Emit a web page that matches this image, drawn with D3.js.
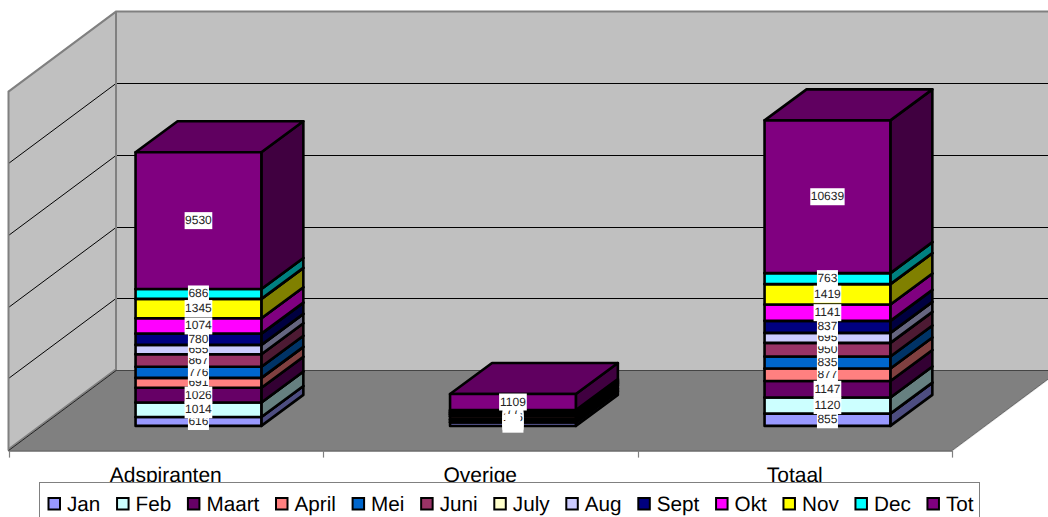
<!DOCTYPE html>
<html><head><meta charset="utf-8">
<script src="https://cdn.jsdelivr.net/npm/d3@7/dist/d3.min.js"></script>
<style>html,body{margin:0;padding:0;background:#fff;overflow:hidden}svg{display:block}text{font-family:"Liberation Sans",Arial,sans-serif;text-rendering:geometricPrecision}</style>
</head><body><svg id="c" width="1048" height="517"></svg>
<script>
const categories = ["Adspiranten","Overige","Totaal"];
const seriesNames = ["Jan","Feb","Maart","April","Mei","Juni","July","Aug","Sept","Okt","Nov","Dec","Tot"];
const jan = [616,239,855];
const feb = [1014,106,1120];
const maart = [1026,121,1147];
const april = [691,186,877];
const mei = [776,59,835];
const juni = [867,83,950];
const july = [0,0,0];
const aug = [655,40,695];
const sept = [780,57,837];
const okt = [1074,67,1141];
const nov = [1345,74,1419];
const dec = [686,77,763];
const tot = [9530,1109,10639];
const seriesValues = [jan,feb,maart,april,mei,juni,july,aug,sept,okt,nov,dec,tot];
const seriesColors = ["#9999FF","#CCFFFF","#660066","#FF8080","#0066CC","#993366","#FFFFCC","#CCCCFF","#000080","#FF00FF","#FFFF00","#00FFFF","#800080"];
const yTicks = [0,5000,10000,15000,20000,25000];

const svg = d3.select("#c");
const depthX = 107.5, depthY = 80;
const barDX = 32.7, barDY = 24.7, barDepthX = 42, barDepthY = 31;
const x = d3.scaleBand().domain(categories).range([8.5,952]).paddingInner(0.6).paddingOuter(0.3);
const y = d3.scaleLinear().domain([0,25000]).range([450.6,91.6]); // front plane
const poly = p => p.map(q=>q.join(",")).join(" ");
const x0 = x.range()[0], x1 = x.range()[1], yB = y(0), yT = y(25000);

svg.append("polygon").attr("points",poly([[x0+depthX,yT-depthY],[x1+depthX,yT-depthY],[x1+depthX,yB-depthY],[x0+depthX,yB-depthY]])).attr("fill","#c0c0c0");
svg.append("polygon").attr("points",poly([[x0,yT],[x0+depthX,yT-depthY],[x0+depthX,yB-depthY],[x0,yB]])).attr("fill","#c0c0c0");
yTicks.slice(1,-1).forEach(t=>{
  const g = Math.floor(y(t)-depthY)+.5;
  svg.append("polyline").attr("points",poly([[x0,g+depthY],[x0+depthX,g],[x1+depthX,g]])).attr("fill","none").attr("stroke","#000").attr("stroke-width",1);
});
svg.append("polygon").attr("points",poly([[x0,yB],[x0+depthX,yB-depthY],[x1+depthX,yB-depthY],[x1,yB]])).attr("fill","#808080");
// right floor edge: light highlight
svg.append("line").attr("x1",x1+.6).attr("y1",yB+.4).attr("x2",x1+depthX+.6).attr("y2",yB-depthY+.4).attr("stroke","#e8e8e8").attr("stroke-width",1);
svg.append("line").attr("x1",x1).attr("y1",yB).attr("x2",x1+depthX).attr("y2",yB-depthY).attr("stroke","#555").attr("stroke-width",.8);
// wall edges
svg.append("polyline").attr("points",poly([[x0,yB],[x0,yT],[x0+depthX,yT-depthY],[x1+depthX,yT-depthY]])).attr("fill","none").attr("stroke","#808080").attr("stroke-width",2);
svg.append("line").attr("x1",x0+depthX).attr("x2",x0+depthX).attr("y1",yT-depthY).attr("y2",yB-depthY).attr("stroke","#808080").attr("stroke-width",2);
// left wall / floor edge: gray band then dark line
svg.append("line").attr("x1",x0).attr("y1",yB-1.4).attr("x2",x0+depthX).attr("y2",yB-depthY-1.4).attr("stroke","#808080").attr("stroke-width",2);
svg.append("line").attr("x1",x0).attr("y1",yB).attr("x2",x0+depthX).attr("y2",yB-depthY).attr("stroke","#222").attr("stroke-width",1);
// back wall / floor edge
svg.append("line").attr("x1",x0+depthX).attr("x2",x1+depthX).attr("y1",Math.floor(yB-depthY)+.5).attr("y2",Math.floor(yB-depthY)+.5).attr("stroke","#444").attr("stroke-width",1);
// category axis
svg.append("line").attr("x1",x0).attr("x2",x1).attr("y1",451).attr("y2",451).attr("stroke","#222");
d3.range(categories.length+1).forEach(i=>{
  const tx = Math.round(x0+i*x.step())+.5;
  svg.append("line").attr("x1",tx).attr("x2",tx).attr("y1",yB).attr("y2",yB+7).attr("stroke","#808080").attr("stroke-width",1.2);
});
categories.forEach(c=>{
  svg.append("text").attr("x",x(c)+x.bandwidth()/2).attr("y",481.5).attr("text-anchor","middle").attr("font-size",21).attr("fill","#000").text(c);
});

const shade = (c,k)=>{const r=d3.rgb(c);return d3.rgb(r.r*k,r.g*k,r.b*k).formatHex();};
const labels = [];
categories.forEach((c,ci)=>{
  let cum = 0;
  const L = x(c)+barDX, R = L+x.bandwidth();
  seriesValues.forEach((vals,si)=>{
    const v = vals[ci];
    if(!v) return;
    const yb = y(cum)-barDY, yt = y(cum+v)-barDY;
    cum += v;
    const col = seriesColors[si];
    const g = svg.append("g").attr("stroke","#000").attr("stroke-width",2.6).attr("stroke-linejoin","round");
    g.append("polygon").attr("points",poly([[R,yb],[R+barDepthX,yb-barDepthY],[R+barDepthX,yt-barDepthY],[R,yt]])).attr("fill",shade(col,.5));
    g.append("polygon").attr("points",poly([[L,yt],[R,yt],[R+barDepthX,yt-barDepthY],[L+barDepthX,yt-barDepthY]])).attr("fill",shade(col,.75));
    g.append("rect").attr("x",L).attr("y",yt).attr("width",R-L).attr("height",yb-yt).attr("fill",col);
    labels.push({cx:(L+R)/2,cy:(yb+yt)/2,v});
  });
});
labels.forEach(l=>{
  const s = String(l.v), w = s.length*6.67+1, h = 17;
  svg.append("rect").attr("x",l.cx-w/2).attr("y",l.cy-h/2).attr("width",w).attr("height",h).attr("fill","#fff");
  svg.append("text").attr("x",l.cx).attr("y",l.cy+3.5).attr("text-anchor","middle").attr("font-size",12).attr("fill","#222").text(s);
});

svg.append("rect").attr("x",39.5).attr("y",482.5).attr("width",940).attr("height",50).attr("fill","#fff").attr("stroke","#808080").attr("stroke-width",1);
let lx = 48.5;
seriesNames.forEach((n,i)=>{
  svg.append("rect").attr("x",lx).attr("y",498).attr("width",11.5).attr("height",11.5).attr("fill",seriesColors[i]).attr("stroke","#000").attr("stroke-width",2);
  const t = svg.append("text").attr("x",lx+18.5).attr("y",511).attr("font-size",20.7).attr("fill","#000").text(n);
  lx += 18.5 + t.node().getComputedTextLength() + 16.7;
});
</script></body></html>
